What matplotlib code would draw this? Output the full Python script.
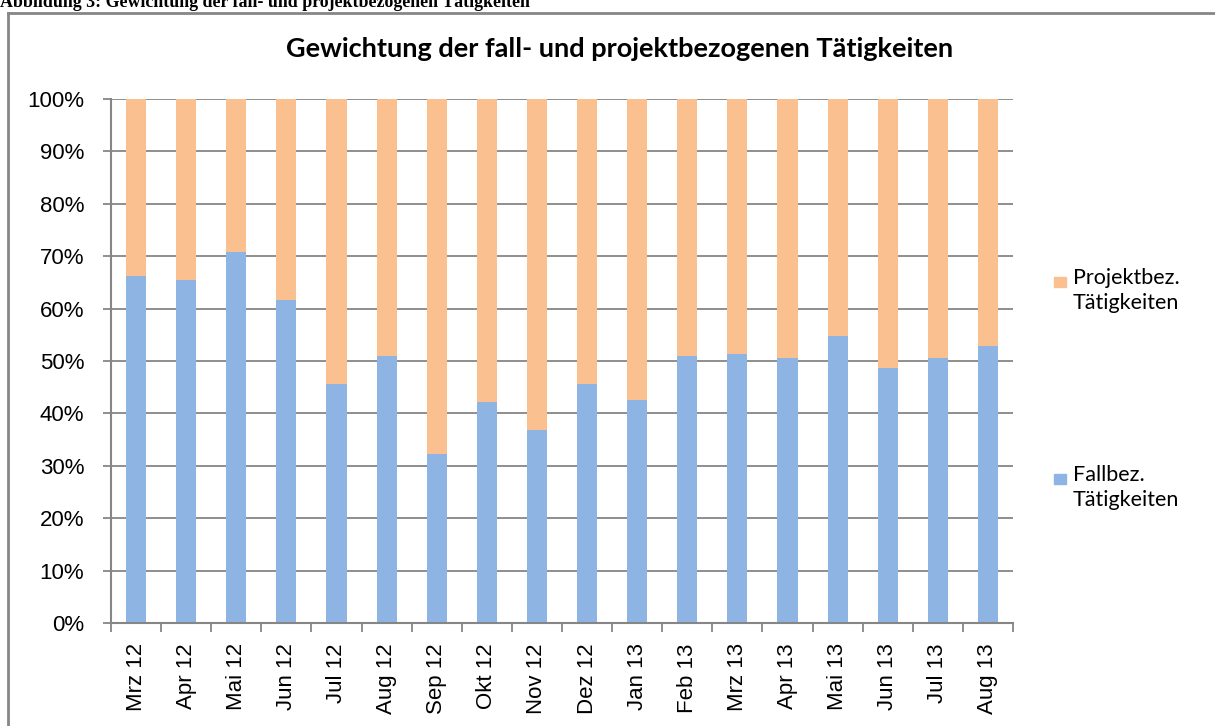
"""Gewichtung der fall- und projektbezogenen Taetigkeiten (100% stacked bars)"""
import matplotlib
matplotlib.use("Agg")
import matplotlib.pyplot as plt
from matplotlib.lines import Line2D
from matplotlib.patches import Rectangle
import numpy as np

months = [
    "Mrz 12", "Apr 12", "Mai 12", "Jun 12", "Jul 12", "Aug 12",
    "Sep 12", "Okt 12", "Nov 12", "Dez 12", "Jan 13", "Feb 13",
    "Mrz 13", "Apr 13", "Mai 13", "Jun 13", "Jul 13", "Aug 13",
]
# share of case-related work in percent, project share is the rest
fallbez = [
    66.2, 65.5, 70.8, 61.6, 45.6, 51.0,
    32.3, 42.2, 36.8, 45.6, 42.6, 51.0,
    51.3, 50.6, 54.8, 48.7, 50.6, 52.9,
]
projektbez = [100.0 - v for v in fallbez]
series_names = ["Fallbez.\nTätigkeiten", "Projektbez.\nTätigkeiten"]
y_ticks = list(range(0, 101, 10))

BLUE = "#8EB4E3"
ORANGE = "#FAC090"
GRAY = "#868686"

W, H = 1215, 726
fig = plt.figure(figsize=(W / 100, H / 100), dpi=100)
ax = fig.add_axes([111 / W, 1 - 623 / H, 902 / W, 524 / H])

x = np.arange(len(months))
ax.bar(x, fallbez, width=0.4, color=BLUE, zorder=2)
ax.bar(x, projektbez, width=0.4, bottom=fallbez, color=ORANGE, zorder=2)

ax.set_xlim(-0.5, len(months) - 0.5)
ax.set_ylim(0, 100)
ax.set_yticks(y_ticks)
ax.set_yticklabels([f"{t}%" for t in y_ticks], fontfamily="Liberation Sans",
                   fontsize=16)
ax.yaxis.grid(True, color=GRAY, linewidth=1.3, zorder=1)
ax.tick_params(axis="y", length=5.8, width=1.3, color=GRAY, pad=13.5)

ax.set_xticks(x)
ax.set_xticklabels(months, rotation=90, fontfamily="Liberation Sans",
                   fontsize=16)
ax.set_xticks(np.arange(len(months) + 1) - 0.5, minor=True)
ax.tick_params(axis="x", which="major", length=0, pad=14.5)
ax.tick_params(axis="x", which="minor", length=6.5, width=1.3, color=GRAY)

for side in ["top", "right"]:
    ax.spines[side].set_visible(False)
for side in ["left", "bottom"]:
    ax.spines[side].set_color(GRAY)
    ax.spines[side].set_linewidth(1.5)
    ax.spines[side].set_zorder(3)

# chart title
fig.text(620 / W, 1 - 57 / H, "Gewichtung der fall- und projektbezogenen Tätigkeiten",
         ha="center", va="baseline", fontfamily="Lato", fontweight="bold",
         fontsize=19.5)

# legend, drawn by hand so the swatch sits on the first text line
legend_rows = [(series_names[1], ORANGE, 282), (series_names[0], BLUE, 479)]
for label, color, yc in legend_rows:
    fig.add_artist(Rectangle((1054 / W, 1 - (yc + 5) / H), 12 / W, 10 / H,
                             transform=fig.transFigure, color=color))
    fig.text(1073 / W, 1 - (yc - 14) / H, label, ha="left", va="top",
             fontfamily="Lato", fontsize=15.5, linespacing=1.3)

# outer chart frame, cut off at the page edge
fig.add_artist(Line2D([8 / W, 8 / W], [0, 1 - 13 / H], transform=fig.transFigure,
                      color=GRAY, linewidth=2))
fig.add_artist(Line2D([8 / W, 1], [1 - 13 / H, 1 - 13 / H],
                      transform=fig.transFigure, color=GRAY, linewidth=2))

# figure caption of the document, clipped at the top like in the source
fig.text(0, 1 - 7 / H,
         "Abbildung 3: Gewichtung der fall- und projektbezogenen Tätigkeiten",
         ha="left", va="baseline", fontfamily="Liberation Serif",
         fontweight="bold", fontsize=12.9)

fig.savefig("out.png", dpi=100)
